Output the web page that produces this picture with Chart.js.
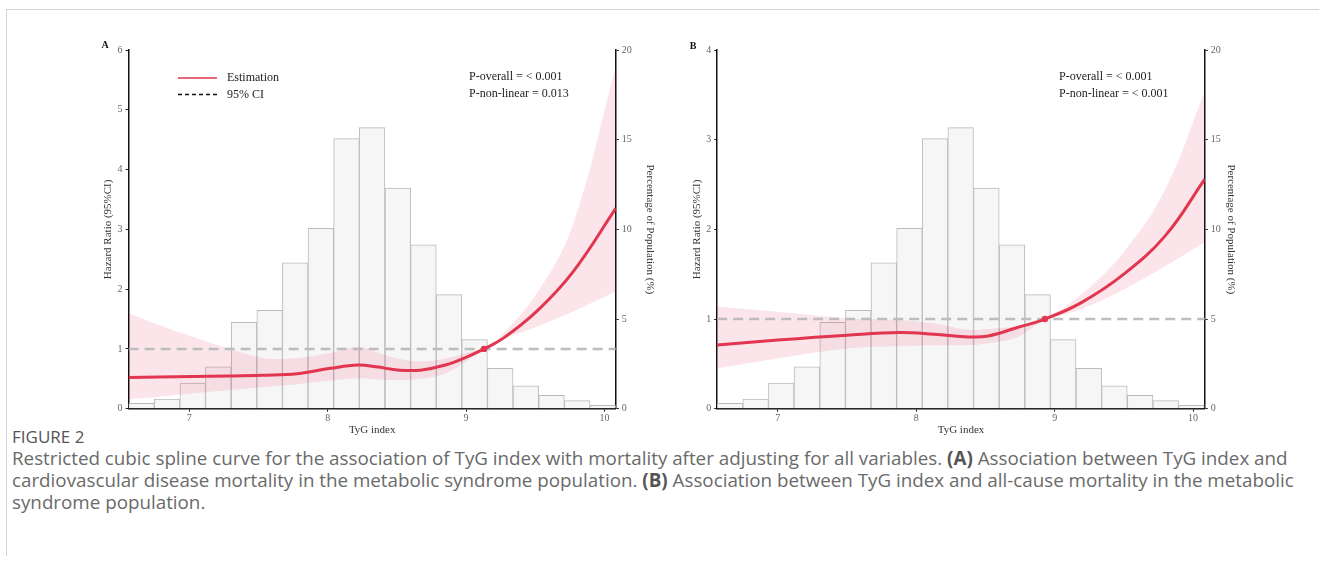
<!DOCTYPE html>
<html>
<head>
<meta charset="utf-8">
<script src="https://cdn.jsdelivr.net/npm/chart.js@4.4.1/dist/chart.umd.min.js"></script>
<style>
body { margin:0; background:#fff; width:1319px; height:569px; position:relative; overflow:hidden; font-family:"Open Sans", sans-serif; }
.frame { position:absolute; left:6px; top:9px; width:1320px; height:546px; border-top:1px solid #d3d3d3; border-left:1px solid #d3d3d3; }
.panel { position:absolute; top:30px; }
#figA { left:90px; }
#figB { left:680px; }
.fig-title { position:absolute; left:12px; top:426px; font-size:17px; line-height:22px; color:#555; }
.caption { position:absolute; left:12px; top:447px; font-size:18.8px; line-height:22px; color:#6a6a6a; white-space:nowrap; }
.caption b { color:#555; }
</style>
</head>
<body>
<div class="frame"></div>
<canvas id="figA" class="panel" width="580" height="410"></canvas>
<canvas id="figB" class="panel" width="580" height="410"></canvas>
<div class="fig-title">FIGURE 2</div>
<div class="caption">Restricted cubic spline curve for the association of TyG index with mortality after adjusting for all variables. <b>(A)</b> Association between TyG index and<br>cardiovascular disease mortality in the metabolic syndrome population. <b>(B)</b> Association between TyG index and all-cause mortality in the metabolic<br>syndrome population.</div>
<script>
// histogram (same bins in both panels), % of population
var binCenters = [6.655, 6.840, 7.025, 7.210, 7.396, 7.581, 7.766, 7.951, 8.136, 8.321, 8.507, 8.692, 8.877, 9.062, 9.247, 9.432, 9.618, 9.803, 9.988];
var binPct = [0.30, 0.54, 1.43, 2.34, 4.81, 5.48, 8.14, 10.06, 15.06, 15.67, 12.30, 9.13, 6.36, 3.85, 2.25, 1.28, 0.74, 0.45, 0.19];

// panel A: cardiovascular mortality
var xA = [6.562, 6.78, 7.03, 7.28, 7.53, 7.78, 8.02, 8.22, 8.35, 8.52, 8.67, 8.85, 9.02, 9.13, 9.27, 9.52, 9.77, 10.082];
var hrA = [0.52, 0.53, 0.54, 0.547, 0.56, 0.585, 0.675, 0.73, 0.70, 0.645, 0.645, 0.73, 0.88, 1.0, 1.18, 1.65, 2.28, 3.35];
var upperA = [1.6, 1.40, 1.20, 1.01, 0.85, 0.85, 0.93, 1.03, 0.95, 0.83, 0.79, 0.84, 0.95, 1.01, 1.26, 1.96, 3.07, 5.72];
var lowerA = [0.16, 0.20, 0.26, 0.31, 0.36, 0.41, 0.47, 0.51, 0.49, 0.48, 0.50, 0.59, 0.82, 0.98, 1.16, 1.38, 1.62, 1.96];
var refXA = 9.13;

// panel B: all-cause mortality
var xB = [6.562, 7.0, 7.5, 7.88, 8.13, 8.38, 8.52, 8.72, 8.93, 9.19, 9.5, 9.8, 10.085];
var hrB = [0.71, 0.766, 0.82, 0.85, 0.83, 0.80, 0.81, 0.90, 1.0, 1.18, 1.50, 1.93, 2.56];
var upperB = [1.14, 1.08, 1.01, 0.99, 0.95, 0.88, 0.89, 0.92, 1.01, 1.27, 1.75, 2.45, 3.54];
var lowerB = [0.45, 0.56, 0.67, 0.70, 0.705, 0.71, 0.73, 0.79, 0.985, 1.11, 1.33, 1.59, 1.86];
var refXB = 8.93;

var xTicks = [7, 8, 9, 10];
var hrTicksA = [0, 1, 2, 3, 4, 5, 6];
var hrTicksB = [0, 1, 2, 3, 4];
var pctTicks = [0, 5, 10, 15, 20];

var red = '#e2354f';
var serif = '"Liberation Serif", "Times New Roman", serif';

function pts (xs, ys) {
	return xs.map(function (x, i) { return {x: x, y: ys[i]}; });
}

var overlay = {
	id: 'overlay',
	afterDraw: function (chart, args, o) {
		var ctx = chart.ctx;
		ctx.save();
		ctx.textBaseline = 'middle';
		ctx.fillStyle = '#111';
		ctx.font = 'bold 10px ' + serif;
		ctx.textAlign = 'center';
		ctx.fillText(o.label, o.labelX, o.labelY);
		ctx.font = '12px ' + serif;
		ctx.textAlign = 'left';
		ctx.fillStyle = '#222';
		o.pText.forEach(function (t, i) { ctx.fillText(t, o.pX, o.pY + i * 16.5); });
		if (o.legend) {
			ctx.lineWidth = 2;
			ctx.strokeStyle = '#e8687c';
			ctx.beginPath(); ctx.moveTo(88, 48); ctx.lineTo(127, 48); ctx.stroke();
			ctx.lineWidth = 1.5;
			ctx.strokeStyle = '#111';
			ctx.setLineDash([4, 3]);
			ctx.beginPath(); ctx.moveTo(88, 64.5); ctx.lineTo(127, 64.5); ctx.stroke();
			ctx.setLineDash([]);
			ctx.fillText('Estimation', 137, 48);
			ctx.fillText('95% CI', 137, 64.5);
		}
		ctx.restore();
	}
};

function axisBase () {
	return {
		grid: { display: true, offset: false, drawOnChartArea: false, drawTicks: true, tickLength: 3, color: '#222' },
		border: { display: true, color: '#111', width: 1.5 },
		ticks: { font: { family: serif, size: 10 }, color: '#666', padding: 3 }
	};
}

function makePanel (id, o) {
	var x = axisBase(), y = axisBase(), y2 = axisBase();
	Object.assign(x, {
		type: 'linear', min: o.xMin, max: o.xMax, offset: false,
		afterBuildTicks: function (s) { s.ticks = xTicks.map(function (v) { return {value: v}; }); },
		afterFit: function (s) { s.height = 31.3; },
		title: { display: true, text: 'TyG index', color: '#333', font: { family: serif, size: 11 }, padding: { top: 0, bottom: 3.4 } }
	});
	x.ticks.padding = 1;
	x.ticks.maxRotation = 0;
	Object.assign(y, {
		position: 'left', min: 0, max: o.hrTicks[o.hrTicks.length - 1],
		afterBuildTicks: function (s) { s.ticks = o.hrTicks.map(function (v) { return {value: v}; }); },
		afterFit: function (s) { s.width = o.yW; },
		title: { display: true, text: 'Hazard Ratio (95%CI)', color: '#333', font: { family: serif, size: 11 }, padding: { top: o.yTitlePad, bottom: 0 } }
	});
	Object.assign(y2, {
		position: 'right', min: 0, max: 20,
		afterBuildTicks: function (s) { s.ticks = pctTicks.map(function (v) { return {value: v}; }); },
		afterFit: function (s) { s.width = o.y2W; },
		title: { display: true, text: 'Percentage of Population (%)', color: '#333', font: { family: serif, size: 11 }, padding: { top: o.y2TitlePad, bottom: 0 } }
	});

	return new Chart(document.getElementById(id), {
		type: 'line',
		data: {
			datasets: [
				{ type: 'scatter', data: [{x: o.refX, y: 1}], pointRadius: 3.2, pointBackgroundColor: red, pointBorderWidth: 0, order: 1 },
				{ data: pts(o.xs, o.hr), borderColor: red, borderWidth: 3, pointRadius: 0, tension: 0.4, fill: false, order: 2 },
				{ data: [{x: o.xMin, y: 1}, {x: o.xMax, y: 1}], borderColor: '#bdbdbd', borderWidth: 2.5, borderDash: [10, 6], pointRadius: 0, fill: false, order: 3 },
				{ data: pts(o.xs, o.lower), borderWidth: 0, pointRadius: 0, tension: 0.4, fill: false, order: 4 },
				{ data: pts(o.xs, o.upper), borderWidth: 0, pointRadius: 0, tension: 0.4, fill: '-1', backgroundColor: 'rgba(228, 40, 80, 0.12)', order: 4 },
				{ type: 'bar', yAxisID: 'y2', data: pts(binCenters, binPct), backgroundColor: '#f7f6f7', borderColor: '#bbbbbb', borderWidth: 1, barPercentage: 1, categoryPercentage: 1, order: 5 }
			]
		},
		options: {
			responsive: false,
			animation: false,
			layout: { padding: { top: 20, left: 0, right: 0, bottom: 0 } },
			plugins: {
				legend: { display: false },
				tooltip: { enabled: false },
				overlay: o.overlay
			},
			scales: { x: x, y: y, y2: y2 }
		},
		plugins: [overlay]
	});
}

makePanel('figA', {
	xMin: 6.562, xMax: 10.082, xs: xA, hr: hrA, upper: upperA, lower: lowerA, refX: refXA,
	hrTicks: hrTicksA, yW: 38.6, y2W: 54.2, yTitlePad: 11.4, y2TitlePad: 13.4,
	overlay: { label: 'A', labelX: 15, labelY: 15, legend: true, pX: 379, pY: 47, pText: ['P-overall = < 0.001', 'P-non-linear = 0.013'] }
});
makePanel('figB', {
	xMin: 6.562, xMax: 10.085, xs: xB, hr: hrB, upper: upperB, lower: lowerB, refX: refXB,
	hrTicks: hrTicksB, yW: 37.2, y2W: 55.2, yTitlePad: 10.4, y2TitlePad: 22.4,
	overlay: { label: 'B', labelX: 13, labelY: 16, legend: false, pX: 379, pY: 47, pText: ['P-overall = < 0.001', 'P-non-linear = < 0.001'] }
});
</script>
</body>
</html>
